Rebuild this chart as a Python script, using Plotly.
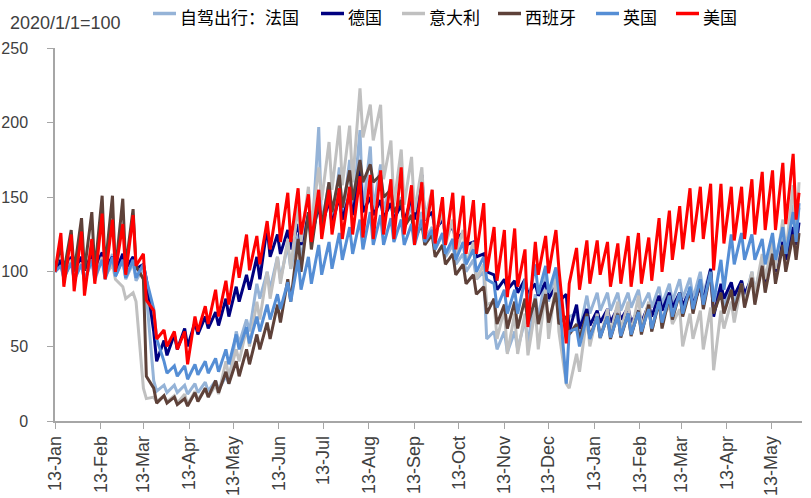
import pandas as pd
import plotly.graph_objects as go

# ---------------- data ----------------
# Daily series are summarised as one weekly high (Friday) and one weekly low (Sunday)
start_date = "2020-01-13"
end_date = "2021-06-01"
n_weeks = 72
start_value = 100

series_names = ["自驾出行：法国", "德国", "意大利", "西班牙", "英国", "美国"]
series_colors = ["#95B3D7", "#000080", "#C0C0C0", "#5E4139", "#558ED5", "#FF0000"]

fr_peak = [106,108,106,108,110,112,108,106,103,27, 24,24,24,25,26,27,30,60,68,92,
           100,110,118,125,140,197,160,170,175,195, 184,172,160,150,145,140,130,125,118,112,
           108,100,60,60,60,68,85,98,102,60, 72,84,86,86,86,86,88,86,90,92,
           95,96,100,102,90,92,94,100,108,115, 128,145]
fr_trough = [95,94,93,94,96,97,95,94,85,20, 19,19,18,19,20,21,25,52,60,82,
             88,95,102,108,118,130,130,135,138,140, 142,140,135,130,126,122,115,110,105,100,
             95,55,48,46,48,52,68,80,82,70, 60,72,74,74,74,76,76,76,78,80,
             82,82,85,80,76,78,80,86,92,100, 112,125]
fr_end = 143

de_peak = [108,110,110,112,113,110,112,110,105,60, 54,58,62,66,70,73,82,90,98,110,
           130,125,128,132,138,145,148,150,152,168, 150,148,146,145,150,165,140,135,130,126,
           120,112,98,95,94,95,92,93,90,85, 78,75,74,75,76,76,74,78,84,86,
           86,88,90,102,92,93,94,96,104,112, 120,130]
de_trough = [100,101,101,102,102,100,102,102,95,40, 44,48,50,58,62,64,70,80,88,95,
             110,112,115,118,122,130,132,135,138,140, 138,136,135,133,135,135,128,125,122,118,
             110,100,88,88,86,85,84,82,80,60, 62,64,66,66,68,66,66,70,74,76,
             77,78,80,70,82,84,85,86,92,100, 108,118]
de_end = 133

it_peak = [120,108,106,108,110,105,90,86,22,16, 17,17,18,20,22,24,40,48,62,80,
           100,110,122,145,157,170,187,198,198,223, 212,212,188,182,177,170,155,140,135,128,
           120,105,80,75,72,72,75,88,95,25, 45,70,72,75,80,80,84,80,80,78,
           75,72,74,76,74,80,92,100,112,120, 135,158]
it_trough = [95,96,95,96,97,95,82,80,15,13, 13,12,11,14,16,18,30,40,50,68,
             82,92,102,120,130,148,155,158,160,190, 188,162,145,145,140,135,125,118,112,105,
             95,78,55,45,45,44,48,55,60,22, 33,50,55,58,60,58,62,60,68,65,
             50,55,48,34,62,66,78,85,95,102, 112,125]
it_end = 160

es_peak = [118,128,136,140,151,151,149,142,95,22, 17,16,15,19,22,27,33,40,48,58,
           66,78,95,122,140,150,160,165,168,175, 172,165,155,148,138,132,125,118,112,105,
           98,90,82,78,80,82,82,85,86,70, 65,72,70,70,72,72,74,78,80,84,
           86,88,94,100,86,88,92,96,104,112, 118,125]
es_trough = [100,100,101,100,102,100,103,104,30,12, 12,11,10,13,16,19,25,30,38,48,
             55,66,80,100,115,130,140,143,148,160, 160,150,140,130,122,118,110,105,98,92,
             85,72,65,62,62,65,65,66,65,58, 55,56,56,55,56,57,58,60,62,68,
             70,72,75,72,72,74,76,78,86,92, 100,108]
es_end = 126

uk_peak = [104,106,105,108,108,110,108,108,105,75, 40,37,37,38,40,42,48,58,63,70,
           78,85,93,108,110,118,120,126,130,135, 140,138,136,135,132,135,128,126,122,120,
           115,110,92,88,88,95,105,104,103,25, 62,70,70,70,71,72,73,75,80,84,
           86,90,95,100,108,125,126,125,122,126, 130,140]
uk_trough = [96,95,94,96,95,97,96,96,95,55, 32,30,28,31,32,33,38,48,52,60,
             68,75,80,88,92,98,102,108,112,115, 118,118,120,118,118,120,115,112,108,105,
             100,95,76,72,72,78,85,86,85,60, 50,55,56,56,57,58,60,62,66,70,
             72,75,78,80,88,105,108,108,105,108, 112,120]
uk_end = 146

us_peak = [126,125,127,122,139,135,132,138,112,74, 61,60,60,70,77,88,94,110,125,124,
           134,146,153,156,152,155,155,156,157,164, 165,168,162,170,158,160,155,150,153,151,
           148,146,130,128,129,115,120,124,128,52, 116,121,121,120,119,124,126,123,136,141,
           144,156,157,159,159,157,157,162,167,168, 173,179]
us_trough = [90,87,84,92,95,100,98,104,81,55, 50,48,38,60,65,70,78,96,101,105,
             115,120,120,125,120,122,125,122,125,123, 122,125,122,125,118,122,119,118,115,112,
             112,100,94,83,90,63,98,99,102,92, 88,92,98,90,92,90,92,94,100,108,
             115,120,122,101,119,121,122,125,128,128, 132,135]
us_end = 153

tick_dates = ["2020-01-13", "2020-02-13", "2020-03-13", "2020-04-13", "2020-05-13",
              "2020-06-13", "2020-07-13", "2020-08-13", "2020-09-13", "2020-10-13",
              "2020-11-13", "2020-12-13", "2021-01-13", "2021-02-13", "2021-03-13",
              "2021-04-13", "2021-05-13"]
tick_labels = ["13-Jan", "13-Feb", "13-Mar", "13-Apr", "13-May", "13-Jun", "13-Jul",
               "13-Aug", "13-Sep", "13-Oct", "13-Nov", "13-Dec", "13-Jan", "13-Feb",
               "13-Mar", "13-Apr", "13-May"]
y_ticks = [0, 50, 100, 150, 200, 250]

# ---------------- build ----------------
t0 = pd.Timestamp(start_date)
dates = [t0]
for w in range(n_weeks):
    dates.append(t0 + pd.Timedelta(days=7 * w + 4))
    dates.append(t0 + pd.Timedelta(days=7 * w + 6))
dates.append(pd.Timestamp(end_date))


def build(peaks, troughs, last):
    vals = [start_value]
    for p, t in zip(peaks, troughs):
        vals += [p, t]
    vals.append(last)
    return vals


all_series = [
    build(fr_peak, fr_trough, fr_end),
    build(de_peak, de_trough, de_end),
    build(it_peak, it_trough, it_end),
    build(es_peak, es_trough, es_end),
    build(uk_peak, uk_trough, uk_end),
    build(us_peak, us_trough, us_end),
]

fig = go.Figure()
for name, color, vals in zip(series_names, series_colors, all_series):
    fig.add_trace(go.Scatter(x=dates, y=vals, mode="lines", name=name,
                             line=dict(color=color, width=3), showlegend=False))

# ---------------- layout ----------------
FIG_W, FIG_H = 811, 498
M_L, M_R, M_T, M_B = 55, 9, 48, 77
PLOT_W = FIG_W - M_L - M_R
PLOT_H = FIG_H - M_T - M_B


def px_to_paper_x(page_x):
    return (page_x - M_L) / PLOT_W


def px_to_paper_y(page_y):
    return (FIG_H - M_B - page_y) / PLOT_H


# hand-made legend (short line samples, as in the reference)
legend_line_left = [153, 321, 402, 498, 596, 676]
legend_line_len = 23
legend_gap = 2
legend_line_y = 13.5
legend_text_y = 16.5

shapes = []
annotations = []
for name, color, lx in zip(series_names, series_colors, legend_line_left):
    shapes.append(dict(type="line", xref="paper", yref="paper",
                       x0=px_to_paper_x(lx), x1=px_to_paper_x(lx + legend_line_len),
                       y0=px_to_paper_y(legend_line_y), y1=px_to_paper_y(legend_line_y),
                       line=dict(color=color, width=3.5)))
    annotations.append(dict(text=name, xref="paper", yref="paper",
                            x=px_to_paper_x(lx + legend_line_len + legend_gap),
                            y=px_to_paper_y(legend_text_y),
                            xanchor="left", yanchor="middle", showarrow=False,
                            font=dict(family="Noto Sans CJK SC", size=17, color="#000000")))

annotations.append(dict(text="2020/1/1=100", xref="paper", yref="paper",
                        x=px_to_paper_x(8), y=px_to_paper_y(23),
                        xanchor="left", yanchor="middle", showarrow=False,
                        font=dict(family="Liberation Sans", size=18, color="#404040")))

axis_color = "#A6A6A6"
fig.update_layout(
    width=FIG_W, height=FIG_H,
    margin=dict(l=M_L, r=M_R, t=M_T, b=M_B, autoexpand=False),
    paper_bgcolor="white", plot_bgcolor="white",
    font=dict(family="Liberation Sans, Noto Sans CJK SC", color="#404040"),
    showlegend=False,
    xaxis=dict(type="date", range=["2020-01-13", "2021-06-03"], automargin=False,
               tickmode="array", tickvals=tick_dates, ticktext=tick_labels,
               tickangle=-90, ticks="outside", ticklen=6, tickcolor=axis_color,
               showline=True, linecolor=axis_color, linewidth=1.5,
               showgrid=False, zeroline=False,
               tickfont=dict(family="Liberation Sans", size=18, color="#404040")),
    yaxis=dict(range=[0, 250], tickmode="array", tickvals=y_ticks, automargin=False,
               ticks="outside", ticklen=6, tickcolor=axis_color,
               showline=True, linecolor=axis_color, linewidth=1.5,
               showgrid=False, zeroline=False, ticklabelstandoff=16,
               tickfont=dict(family="Liberation Sans", size=16, color="#404040")),
    shapes=shapes,
    annotations=annotations,
)

# remove the default 8 px page margin so the figure fills the window exactly
fig.write_html("out.html", config={"displayModeBar": False},
               post_script="document.body.style.margin='0';")
